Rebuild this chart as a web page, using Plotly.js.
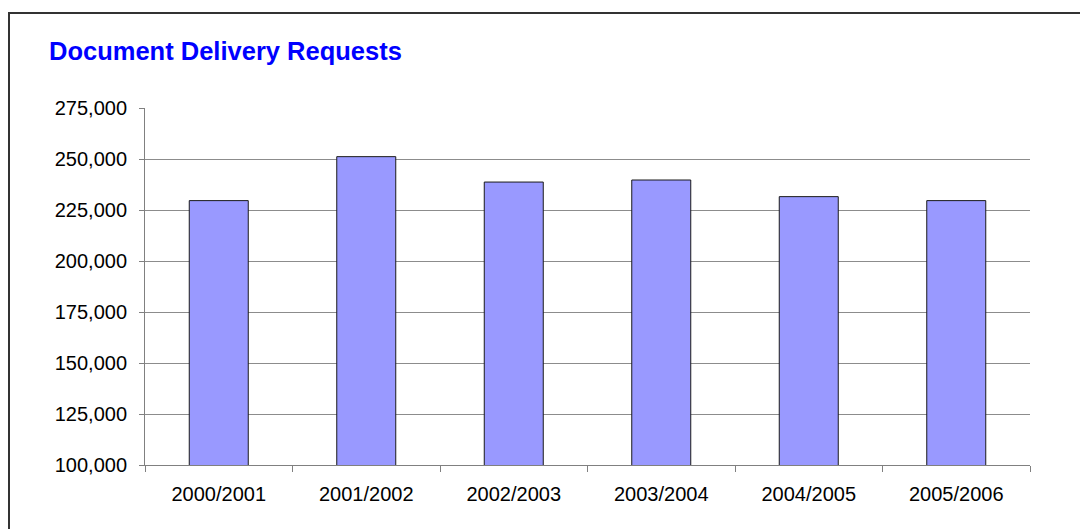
<!DOCTYPE html>
<html>
<head>
<meta charset="utf-8">
<script src="https://cdn.plot.ly/plotly-3.0.1.min.js"></script>
<style>
  html, body { margin: 0; padding: 0; background: #fff; }
  #wrap { position: relative; width: 1080px; height: 529px; overflow: hidden; }
  #frame { position: absolute; left: 8px; top: 12px; width: 1200px; height: 600px;
           border-left: 2px solid #333; border-top: 2px solid #333; pointer-events: none; }
  #chart { position: absolute; left: 0; top: 0; width: 1080px; height: 529px; }
</style>
</head>
<body>
<div id="wrap">
  <div id="chart"></div>
  <div id="frame"></div>
</div>
<script>
const categories = ["2000/2001", "2001/2002", "2002/2003", "2003/2004", "2004/2005", "2005/2006"];
const requests = [229600, 251150, 238700, 239700, 231550, 229600];
const yTickValues = [100000, 125000, 150000, 175000, 200000, 225000, 250000, 275000];

const trace = {
  type: 'bar',
  x: categories,
  y: requests,
  marker: { color: '#9999FF', line: { color: '#1a1a1a', width: 1 } },
  hoverinfo: 'x+y'
};

const layout = {
  width: 1080,
  height: 529,
  margin: { l: 145, r: 50, t: 108, b: 64 },
  paper_bgcolor: 'rgba(0,0,0,0)',
  plot_bgcolor: '#ffffff',
  showlegend: false,
  bargap: 0.6,
  font: { family: 'Liberation Sans, Arial, sans-serif', size: 20, color: '#000' },
  title: {
    text: '<b>Document Delivery Requests</b>',
    font: { family: 'Liberation Sans, Arial, sans-serif', size: 25.5, color: '#0000FF' },
    xref: 'container', yref: 'container',
    x: 49 / 1080, xanchor: 'left',
    y: 1 - 51 / 529, yanchor: 'middle'
  },
  xaxis: {
    type: 'category',
    tickson: 'boundaries',
    ticks: 'outside',
    ticklen: 6,
    tickcolor: '#808080',
    tickwidth: 1,
    showline: true,
    linecolor: '#808080',
    linewidth: 1,
    showgrid: false,
    zeroline: false,
    ticklabelstandoff: 11,
    tickfont: { size: 20, color: '#000' }
  },
  yaxis: {
    range: [100000, 275000],
    tickvals: yTickValues,
    tickformat: ',',
    ticks: 'outside',
    ticklen: 5,
    tickcolor: '#808080',
    showline: true,
    linecolor: '#808080',
    linewidth: 1,
    showgrid: true,
    gridcolor: '#8c8c8c',
    gridwidth: 1,
    zeroline: false,
    ticklabelstandoff: 8,
    tickfont: { size: 20, color: '#000' }
  }
};

Plotly.newPlot('chart', [trace], layout, { displayModeBar: false, staticPlot: true });
</script>
</body>
</html>
